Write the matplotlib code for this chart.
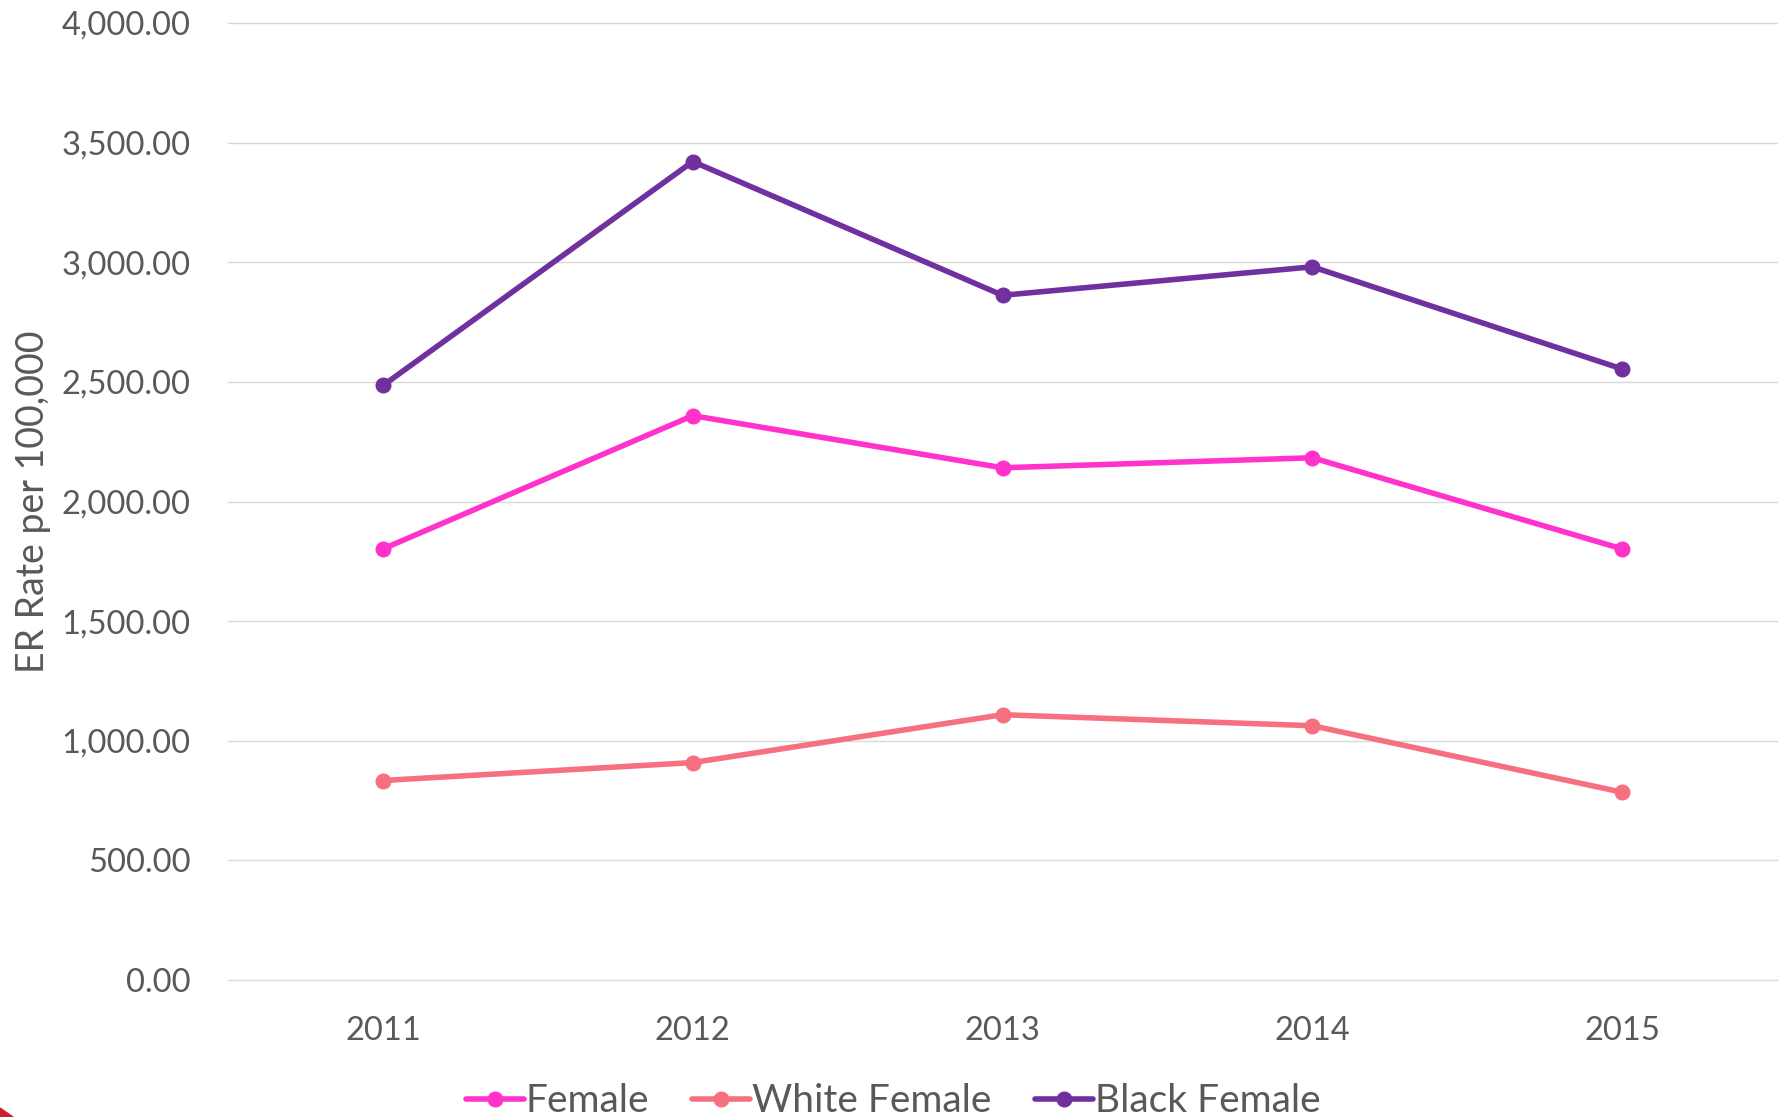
import matplotlib.pyplot as plt
from matplotlib.patches import Polygon
from matplotlib.ticker import FuncFormatter

# Données
annees = ['2011', '2012', '2013', '2014', '2015']
female = [1802, 2359, 2141, 2183, 1802]
white_female = [834, 909, 1109, 1063, 785]
black_female = [2485, 3421, 2862, 2981, 2554]

series = [
    ('Female', female, '#FF33CC'),
    ('White Female', white_female, '#F7707F'),
    ('Black Female', black_female, '#7030A0'),
]

plt.rcParams['font.family'] = ['Lato', 'DejaVu Sans']
gris = '#595959'

fig = plt.figure(figsize=(17.86, 11.17), dpi=100)
ax = fig.add_axes([0.1277, 0.1226, 0.8673, 0.8568])

x = list(range(len(annees)))
for nom, valeurs, couleur in series:
    ax.plot(x, valeurs, color=couleur, lw=4.0, marker='o', ms=10.5,
            label=nom, solid_capstyle='round', zorder=3)

# Axes
ax.set_xlim(-0.5, len(annees) - 0.5)
ax.set_ylim(0, 4000)
ax.set_yticks(range(0, 4001, 500))
ax.yaxis.set_major_formatter(FuncFormatter(lambda v, p: f'{v:,.2f}'))
ax.set_xticks(x)
ax.set_xticklabels(annees)
ax.grid(axis='y', color='#D9D9D9', lw=1.0)
for ligne in ax.get_ygridlines():
    ligne.set_clip_on(False)
ax.set_axisbelow(True)
for s in ax.spines.values():
    s.set_visible(False)
ax.tick_params(axis='both', length=0, labelsize=23.5, colors=gris)
ax.tick_params(axis='y', pad=27)
ax.tick_params(axis='x', pad=26)

ax.set_ylabel('ER Rate per 100,000', fontsize=27, color=gris)
ax.yaxis.set_label_coords(-0.114, 0.5)

# Légende en bas
fig.legend(loc='center', bbox_to_anchor=(0.5, 0.014), ncol=3, frameon=False,
           fontsize=28, labelcolor=gris, handlelength=1.5, handletextpad=0.05,
           columnspacing=1.1)

# Petit triangle rouge dans le coin
fig.patches.append(Polygon([(0, 0), (0, 9 / 1117), (13 / 1786, 0)], closed=True,
                           transform=fig.transFigure, color='#CC2229'))

fig.savefig('out.png', dpi=100)
